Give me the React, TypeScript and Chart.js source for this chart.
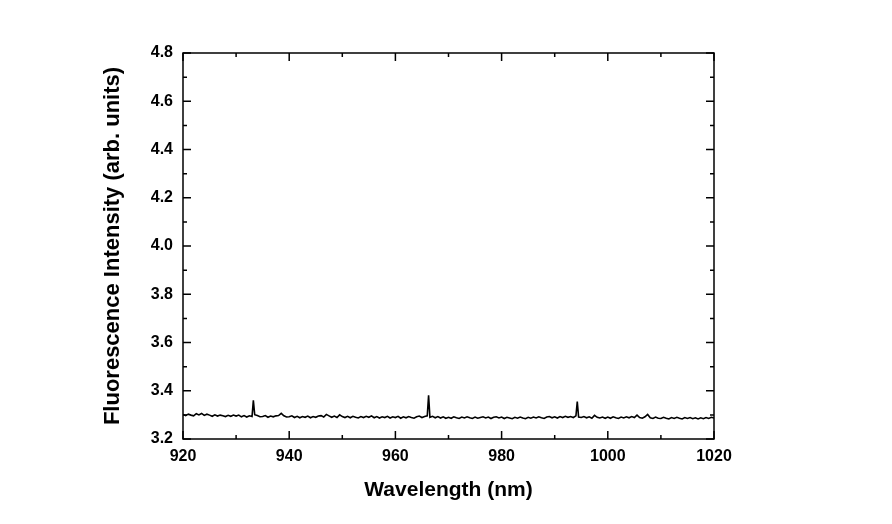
import React, { useEffect, useRef } from "react";
import { Chart, registerables } from "chart.js";

Chart.register(...registerables);

// Sampled spectrum, 0.5 nm step from 920 to 1020 nm
const wavelengthStart = 920;
const wavelengthStep = 0.5;
const intensity = [
  3.302, 3.297, 3.303, 3.299, 3.296, 3.305, 3.300, 3.306, 3.298, 3.303,
  3.299, 3.294, 3.300, 3.295, 3.299, 3.296, 3.293, 3.298, 3.294, 3.299,
  3.295, 3.299, 3.292, 3.297, 3.291, 3.296, 3.293, 3.301, 3.297, 3.292,
  3.293, 3.297, 3.290, 3.295, 3.292, 3.296, 3.297, 3.306, 3.296, 3.291,
  3.292, 3.296, 3.289, 3.294, 3.288, 3.293, 3.290, 3.295, 3.288, 3.293,
  3.290, 3.295, 3.297, 3.291, 3.302, 3.296, 3.290, 3.295, 3.289, 3.300,
  3.293, 3.289, 3.294, 3.288, 3.294, 3.290, 3.287, 3.293, 3.289, 3.294,
  3.290, 3.296, 3.288, 3.293, 3.287, 3.292, 3.289, 3.294, 3.287, 3.292,
  3.289, 3.294, 3.286, 3.292, 3.288, 3.293, 3.289, 3.286, 3.292, 3.295,
  3.289, 3.293, 3.296, 3.290, 3.294, 3.288, 3.293, 3.287, 3.292, 3.286,
  3.290, 3.286, 3.292, 3.288, 3.285, 3.291, 3.287, 3.292, 3.288, 3.285,
  3.291, 3.286, 3.289, 3.292, 3.287, 3.291, 3.285, 3.290, 3.292, 3.287,
  3.291, 3.285, 3.290, 3.287, 3.284, 3.290, 3.286, 3.291, 3.287, 3.284,
  3.290, 3.286, 3.291, 3.287, 3.292, 3.288, 3.285, 3.291, 3.293, 3.288,
  3.292, 3.287, 3.293, 3.289, 3.294, 3.290, 3.293, 3.289, 3.296, 3.291,
  3.289, 3.293, 3.288, 3.292, 3.286, 3.298, 3.290, 3.287, 3.291, 3.286,
  3.291, 3.286, 3.292, 3.288, 3.285, 3.291, 3.287, 3.292, 3.288, 3.293,
  3.289, 3.299, 3.289, 3.286, 3.292, 3.302, 3.288, 3.285, 3.291, 3.286,
  3.285, 3.290, 3.286, 3.283, 3.289, 3.285, 3.290, 3.286, 3.283, 3.289,
  3.285, 3.289, 3.284, 3.288, 3.283, 3.288, 3.284, 3.289, 3.285, 3.290,
  3.287,
];

// Narrow emission spikes
const spikeWavelengths = [933.25, 966.25, 994.25];
const spikeIntensity = [3.360, 3.381, 3.355];

// Axis ticks
const xMajorTicks = [920, 940, 960, 980, 1000, 1020];
const xMinorTicks = [930, 950, 970, 990, 1010];
const yMajorTicks = [3.2, 3.4, 3.6, 3.8, 4.0, 4.2, 4.4, 4.6, 4.8];
const yMinorTicks = [3.3, 3.5, 3.7, 3.9, 4.1, 4.3, 4.5, 4.7];

const FONT = "'Liberation Sans', Arial, Helvetica, sans-serif";

const framePlugin = {
  id: "frameTicks",
  afterDraw(chart: any) {
    const { ctx, chartArea: a, scales } = chart;
    const xs = scales.x;
    const ys = scales.y;
    ctx.save();
    ctx.strokeStyle = "#000";
    ctx.lineWidth = 1.5;
    ctx.strokeRect(a.left, a.top, a.right - a.left, a.bottom - a.top);
    const major = 8;
    const minor = 4;
    ctx.beginPath();
    const xt = (v: number, len: number) => {
      const p = xs.getPixelForValue(v);
      ctx.moveTo(p, a.bottom);
      ctx.lineTo(p, a.bottom - len);
      ctx.moveTo(p, a.top);
      ctx.lineTo(p, a.top + len);
    };
    const yt = (v: number, len: number) => {
      const p = ys.getPixelForValue(v);
      ctx.moveTo(a.left, p);
      ctx.lineTo(a.left + len, p);
      ctx.moveTo(a.right, p);
      ctx.lineTo(a.right - len, p);
    };
    xMajorTicks.forEach((v) => xt(v, major));
    xMinorTicks.forEach((v) => xt(v, minor));
    yMajorTicks.forEach((v) => yt(v, major));
    yMinorTicks.forEach((v) => yt(v, minor));
    ctx.stroke();
    ctx.restore();
  },
};

export default function App() {
  const ref = useRef<HTMLCanvasElement | null>(null);

  useEffect(() => {
    document.body.style.margin = "0";
    const canvas = ref.current;
    if (!canvas) return;

    const pts: { x: number; y: number }[] = intensity.map((y, i) => ({
      x: wavelengthStart + i * wavelengthStep,
      y,
    }));
    spikeWavelengths.forEach((x, i) => pts.push({ x, y: spikeIntensity[i] }));
    pts.sort((p, q) => p.x - q.x);

    const chart = new Chart(canvas, {
      type: "line",
      data: {
        datasets: [
          {
            data: pts,
            borderColor: "#000",
            borderWidth: 1.6,
            pointRadius: 0,
            tension: 0,
            fill: false,
          },
        ],
      },
      plugins: [framePlugin],
      options: {
        animation: false,
        responsive: false,
        devicePixelRatio: 1,
        layout: { padding: { top: 53, right: 178, left: 0, bottom: 0 } },
        plugins: { legend: { display: false }, tooltip: { enabled: false } },
        scales: {
          x: {
            type: "linear",
            min: 920,
            max: 1020,
            afterBuildTicks: (s: any) => {
              s.ticks = xMajorTicks.map((v) => ({ value: v }));
            },
            afterFit: (s: any) => {
              s.height = 85;
            },
            grid: { display: false, drawTicks: false },
            border: { display: false },
            ticks: {
              padding: 8,
              color: "#000",
              font: { family: FONT, size: 16, weight: "bold" },
              maxRotation: 0,
              callback: (v: any) => String(v),
            },
            title: {
              display: true,
              text: "Wavelength (nm)",
              color: "#000",
              font: { family: FONT, size: 21, weight: "bold" },
              padding: { top: 0, bottom: 21 },
            },
          },
          y: {
            type: "linear",
            min: 3.2,
            max: 4.8,
            afterBuildTicks: (s: any) => {
              s.ticks = yMajorTicks.map((v) => ({ value: v }));
            },
            afterFit: (s: any) => {
              s.width = 183;
            },
            grid: { display: false, drawTicks: false },
            border: { display: false },
            ticks: {
              padding: 10,
              color: "#000",
              font: { family: FONT, size: 16, weight: "bold" },
              callback: (v: any) => Number(v).toFixed(1),
            },
            title: {
              display: true,
              text: "Fluorescence Intensity (arb. units)",
              color: "#000",
              font: { family: FONT, size: 22, weight: "bold" },
              padding: { top: 100, bottom: 0 },
            },
          },
        },
      },
    });
    return () => chart.destroy();
  }, []);

  return <canvas ref={ref} width={892} height={524} style={{ display: "block" }} />;
}
